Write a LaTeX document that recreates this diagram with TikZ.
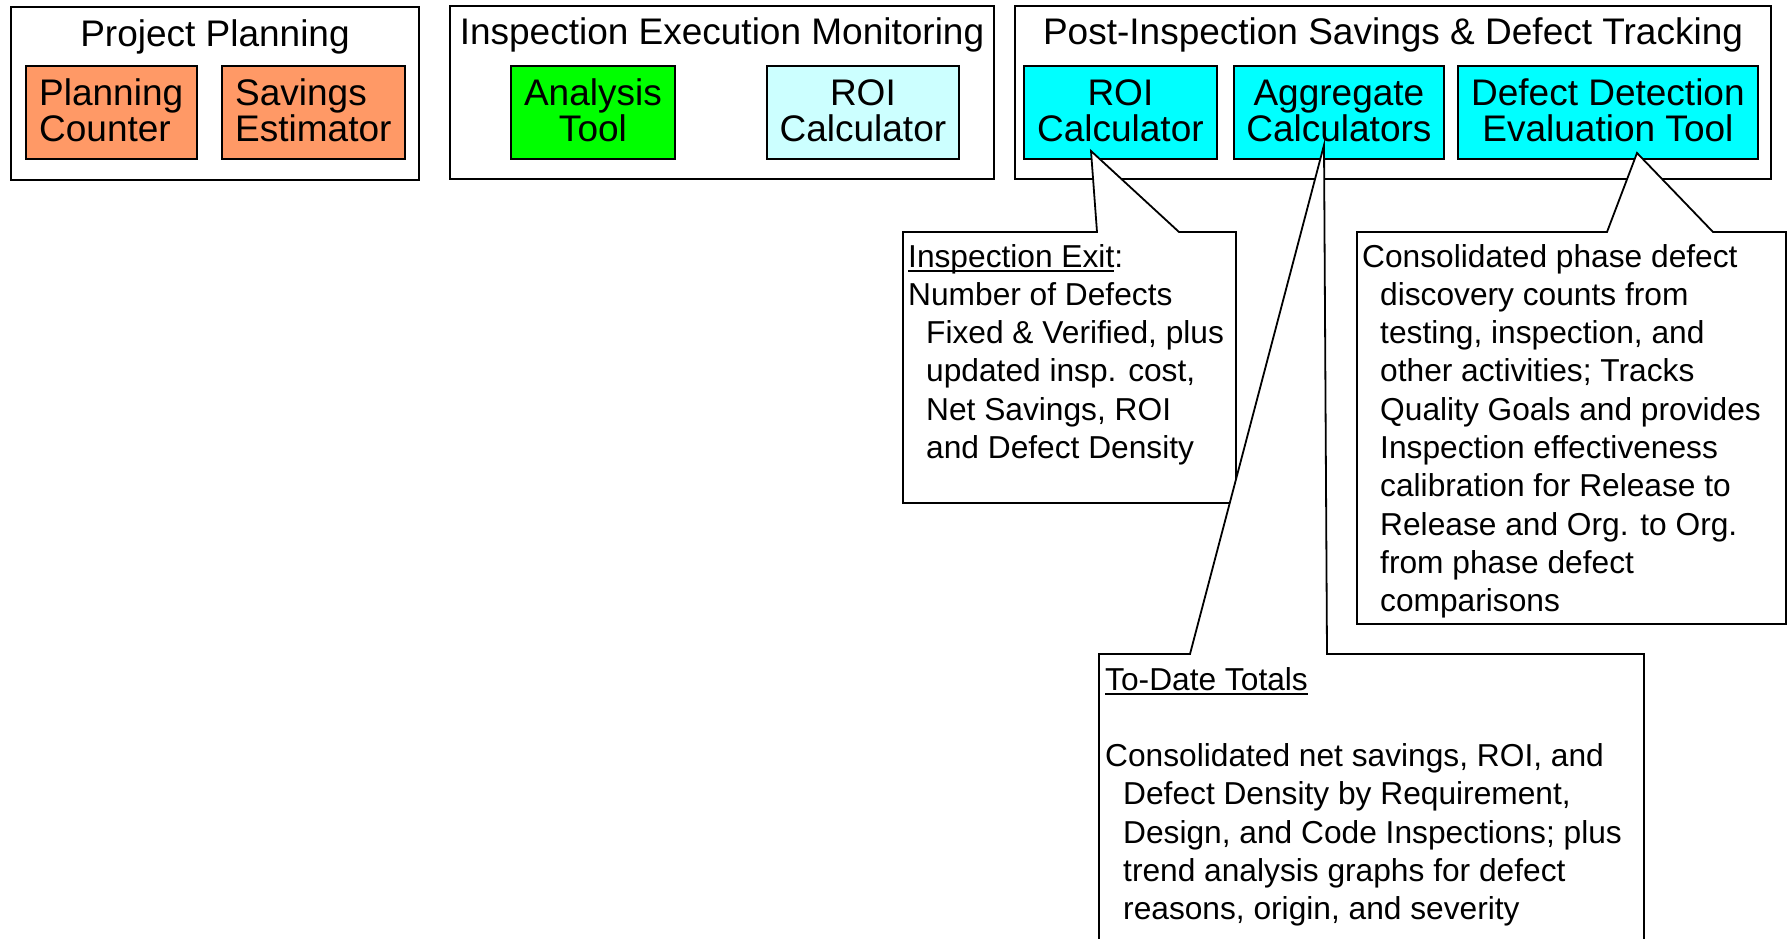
\documentclass[tikz,border=0pt]{standalone}
\usepackage{fontspec}
\setmainfont{Liberation Sans}
\usetikzlibrary{calc}

\definecolor{orangefill}{HTML}{FF9966}
\definecolor{greenfill}{HTML}{00FF00}
\definecolor{palecyan}{HTML}{CCFFFF}
\definecolor{cyanfill}{HTML}{00FFFF}

% underline drawn close to the baseline
\newsavebox\ulbox
\newcommand\ulinetext[1]{\leavevmode\sbox\ulbox{#1}\rlap{\rule[-5pt]{\wd\ulbox}{1.8pt}}\usebox\ulbox}
\newcommand\ind{\hspace*{18pt}}

\begin{document}
\begin{tikzpicture}[x=1pt, y=-1pt, line join=miter,
  group/.style={draw=black, line width=2pt, fill=white, inner sep=0pt, anchor=north west, minimum height=173pt},
  tool/.style={draw=black, line width=1.8pt, inner sep=0pt, anchor=north west, minimum height=93pt},
  bigtext/.style={inner sep=0pt, font=\fontsize{37}{35.4}\selectfont},
  calltext/.style={inner sep=0pt, anchor=base west, font=\fontsize{31.7}{38.3}\selectfont},
  callout/.style={draw=black, line width=1.8pt, fill=white}]

\useasboundingbox (0,0) rectangle (1788,939);
\clip (0,0) rectangle (1788,939);

% ---- the three phase groups ----
\node[group, minimum width=408pt] (grpA) at (10,6) {};
\node[group, minimum width=544pt] (grpB) at (449,5) {};
\node[group, minimum width=756pt] (grpC) at (1014,5) {};

\node[bigtext, anchor=base] (ttlA) at ($(grpA.north)+(0,41)$) {Project Planning};
\node[bigtext, anchor=base] (ttlB) at ($(grpB.north)+(0,40)$) {Inspection Execution Monitoring};
\node[bigtext, anchor=base] (ttlC) at ($(grpC.north)+(0,40)$) {Post-Inspection Savings \& Defect Tracking};

% ---- tools ----
\node[tool, fill=orangefill, minimum width=171pt] (pc)   at (25,65) {};
\node[tool, fill=orangefill, minimum width=183pt] (se)   at (221,65) {};
\node[tool, fill=greenfill,  minimum width=164pt] (at)   at (510,65) {};
\node[tool, fill=palecyan,   minimum width=192pt] (roiA) at (766,65) {};
\node[tool, fill=cyanfill,   minimum width=193pt] (roiB) at (1023,65) {};
\node[tool, fill=cyanfill,   minimum width=210pt] (agg)  at (1233,65) {};
\node[tool, fill=cyanfill,   minimum width=300pt] (ddet) at (1457,65) {};

\node[bigtext, anchor=base west] (pcT) at ($(pc.north west)+(14,41)$)
  {\parbox[t]{160pt}{\raggedright Planning\\Counter}};
\node[bigtext, anchor=base west] (seT) at ($(se.north west)+(14,41)$)
  {\parbox[t]{170pt}{\raggedright Savings\\Estimator}};
\node[bigtext, anchor=base] (atT) at ($(at.north)+(0,41)$)
  {\parbox[t]{300pt}{\centering Analysis\\Tool}};
\node[bigtext, anchor=base] (roiAT) at ($(roiA.north)+(0,41)$)
  {\parbox[t]{300pt}{\centering ROI\\Calculator}};
\node[bigtext, anchor=base] (roiBT) at ($(roiB.north)+(0,41)$)
  {\parbox[t]{300pt}{\centering ROI\\Calculator}};
\node[bigtext, anchor=base] (aggT) at ($(agg.north)+(0,41)$)
  {\parbox[t]{300pt}{\centering Aggregate\\Calculators}};
\node[bigtext, anchor=base] (ddetT) at ($(ddet.north)+(0,41)$)
  {\parbox[t]{400pt}{\centering Defect Detection\\Evaluation Tool}};

% ---- callout tips ----
\coordinate (tipR) at (1091,151);
\coordinate (tipA) at (1324,145);
\coordinate (tipD) at (1637,153);

% ---- callout from the ROI calculator ----
\filldraw[callout] (903,232) -- (1097,232) -- (tipR) -- (1179,232) -- (1236,232)
  -- (1236,503) -- (903,503) -- cycle;
\node[calltext] (exitT) at (908,267) {\parbox[t]{325pt}{\raggedright
  \ulinetext{Inspection Exit}:\\
  Number of Defects\\
  \ind Fixed \& Verified, plus\\
  \ind updated insp. cost,\\
  \ind Net Savings, ROI\\
  \ind and Defect Density}};

% ---- callout from the defect detection tool ----
\filldraw[callout] (1357,232) -- (1607,232) -- (tipD) -- (1713,232) -- (1786,232)
  -- (1786,624) -- (1357,624) -- cycle;
\node[calltext] (ddetNote) at (1362,267) {\parbox[t]{420pt}{\raggedright
  Consolidated phase defect\\
  \ind discovery counts from\\
  \ind testing, inspection, and\\
  \ind other activities; Tracks\\
  \ind Quality Goals and provides\\
  \ind Inspection effectiveness\\
  \ind calibration for Release to\\
  \ind Release and Org. to Org.\\
  \ind from phase defect\\
  \ind comparisons}};

% ---- callout from the aggregate calculators ----
\filldraw[callout] (1099,654) -- (1190,654) -- (tipA) -- (1327,654) -- (1644,654)
  -- (1644,960) -- (1099,960) -- cycle;
\node[calltext] (totalsT) at (1105,690) {\parbox[t]{535pt}{\raggedright
  \ulinetext{To-Date Totals}\\
  \mbox{}\\
  Consolidated net savings, ROI, and\\
  \ind Defect Density by Requirement,\\
  \ind Design, and Code Inspections; plus\\
  \ind trend analysis graphs for defect\\
  \ind reasons, origin, and severity}};

\end{tikzpicture}
\end{document}
